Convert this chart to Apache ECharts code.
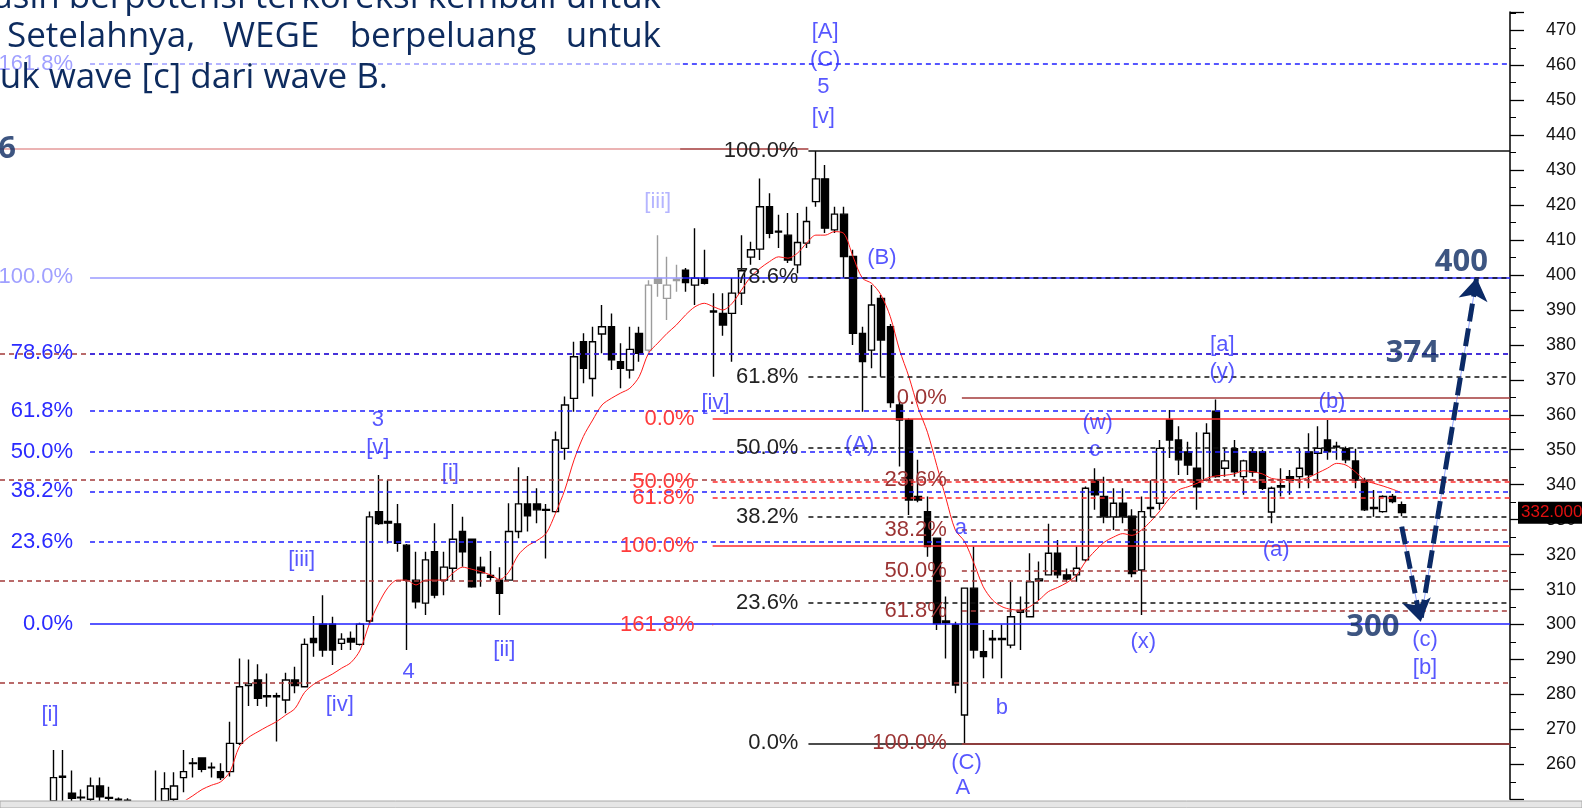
<!DOCTYPE html>
<html><head><meta charset="utf-8">
<script src="https://cdn.jsdelivr.net/npm/echarts@6/dist/echarts.min.js"></script>
<style>html,body{margin:0;padding:0;background:#fff;overflow:hidden}#c{width:1582px;height:808px}</style>
</head><body><div id="c"></div>
<script>
// ---------------- DATA ----------------
const opens  = [249.5,256.3,251.7,250.6,250,253.8,250.5,250,249.7,248,247.5,247,249.5,250,256.2,260.2,261.8,259.2,257.9,257.9,
266,282.5,284.1,279.3,279.6,278.4,284.1,282.2,296,300.1,300.1,294.6,296,294.3,301,332.3,329.5,328.8,322.7,312.7,
306.1,320.8,312.7,316.1,326.6,324.4,316.4,314,312.7,312.7,326.6,334.5,334.5,332.9,332.3,350.4,364.7,380.9,370.4,383.1,
385.2,375.2,372.8,383.3,378.5,399,393.3,398.8,401.4,397.1,399,389.7,389,389,394.8,405.1,407.4,419.5,412.5,411.4,
402.9,409.1,421,427.5,412.9,417.4,405.3,383.3,378.5,393.3,385.2,362.8,358.5,336.6,332.3,324.7,301,299.9,274.1,310.4,
292.2,295.6,296,294.1,303.5,302.2,312.5,314.2,320.4,314.2,314.2,318.5,341.3,336.6,330.8,334.7,331,315.6,333.2,334.7,
358.5,352.8,349.4,344.7,341.3,361,344.7,350.3,342.3,349.4,349.4,332.2,339.3,342.3,342.3,349.4,349,352.8,350.8,350.3,
346.8,341.3,333.5,332.3,336.6,334.3];
const closes = [256.2,256.6,250.3,250.4,253.8,250.7,250.3,249.8,249.5,247.5,247,248,253,253.8,257.9,260.4,258.6,259,256.2,266,
282.2,283,278.9,279.6,279.3,284.1,282.5,294.3,294.8,292.7,292.7,295.8,295,300.1,330.8,328.9,329,323.2,312.7,306.5,
318.5,308.4,316.4,324.4,320.8,310.8,314.8,313.5,308.9,326.6,334.5,331.1,332.8,332.7,352.8,362.8,376.6,373.3,380.9,385.2,
375.7,373.3,378.7,377.6,397.1,397.6,397.1,398.4,397.8,399.1,397.6,389.4,385.7,394.8,401.2,407.2,419.5,411.9,412.3,404.3,
409.3,415.3,427.5,413.4,417.4,405.3,383.3,375.2,391.4,381.4,363.5,358.5,335.6,335.6,322.3,300.3,300.5,282.7,310.4,292.7,
290.8,296,295.7,302.2,304,312.2,313,320.4,314.2,313,316.1,339,337.1,330.8,334.7,330.8,314.6,332.3,333.5,350.4,
352.8,347.1,345.6,339.4,354.7,342.3,346.8,343.7,346.8,343.6,339,339,339.7,341.3,344.7,342.8,350.4,349.4,351,347.1,
341.3,332.8,333.2,336.6,335.2,332];
const lows   = [248,249,249,249,249.5,249.5,249.5,249.5,249,246,246,246,248,248.5,252,256.2,257.7,256.2,255.5,256.5,
265.5,276.7,276.7,276.5,266.5,274.6,280.3,282,290.8,290.8,288.4,292.7,292.7,294,300,328.5,323.2,320.8,292.7,304.6,
302.7,307.5,308.4,312.7,316.5,310.5,310.8,312.5,302.7,312.5,324.7,326.6,329,318.9,332,347.1,360.9,369,365.2,377.6,
372.8,367.6,370.4,375.2,378,393.8,387.1,395.2,395.2,391.4,397.3,370.9,382.6,375.2,391.4,402.9,404.3,410.5,407.7,403.4,
400.5,407.7,419.5,412,412,399.1,380,360.9,373.3,370.9,362,345.2,331.3,335,319.4,298.4,290.3,280.3,266,290.3,
284.6,290.3,284.6,293.2,292.7,302,307,314,313.2,312.2,312.2,318,332.8,329,327,329,313.5,302.7,330.8,332.8,
347.6,342.8,342.8,332.8,341,342,342.3,342.3,337.1,342.3,338.5,329,336.6,337.1,339,339,341.3,347.1,347.1,346.1,
339,332.5,330.8,332,334.7,331];
const highs  = [264.1,264.1,258.2,252.8,256.2,256.2,253.6,250.5,250.3,249,248.5,258.2,257.7,257.7,264.1,261.8,262,260.5,260.3,272.2,
290.3,290,288.6,286,280.5,286.2,287.9,296,302.4,308.4,302.2,297.5,298,300.5,332.3,342.8,341.3,334.5,323,320.8,
320.8,329,320.8,334.5,330.8,324.6,319.4,321,316.4,334.7,345,342.5,339,334.5,355.2,365.2,380.9,383.3,385.2,391.4,
389,380.5,385.2,385.2,398.5,411.4,405.2,402.9,402,413.4,407.2,394.8,394.8,399.1,411.4,409.5,427.6,423.4,417.2,417.7,
417.7,419.5,435.5,431.5,419.5,419.5,407.2,385.2,397.1,394.3,386,364,359,347.1,336.6,324.7,308,300.8,310.6,322.3,
298.4,298.4,299.9,312.2,308,320.4,318,328.8,324.2,316,322.3,339.5,344.7,342.3,339,339,333,336.6,341.3,352.8,
361.4,356.7,352.3,355,357.6,364.4,350.4,352.8,347.1,350.3,350,339.5,344.7,344.2,350.4,354.7,356.7,358.5,352.3,350.9,
350.3,342,338.5,337,337.3,335.2];
// moving average (null where it is off the picture)
const movingAvg = [null,null,null,null,null,null,null,null,null,null,null,null,null,247.5,249.3,251,252.8,254,255,257.9,
265,267.7,269.3,270.8,272.2,274.1,276,280.5,282.9,284.4,285.8,287.5,289.1,292.7,300.3,306.1,310.6,312.7,312.7,311.3,
312.7,312.7,312.7,314.8,316.4,315.8,315.1,314.2,312.9,315.1,319.9,322.5,324,326.1,331.8,338.5,347.1,353.8,358.5,362.8,
364.7,366.2,367.6,370.9,377.6,380.5,383.3,385.7,388.6,390.9,391.9,390.9,390,391.9,395.7,399.5,401.9,403.8,405.2,404.8,
406.2,409.1,411.4,411.4,412.4,411.9,405.2,399.1,397.6,394.3,388.1,378.5,370.9,362,355,345.5,336,327,323.7,317.5,
310.8,307,305.1,304.3,304.1,305.1,307,309.4,310.6,312,314,318,321,323.5,325,326,325.5,327,329.5,332.5,
336,338.5,339.4,340.4,341.8,342.5,342.7,343.1,344,343.7,343.1,341.8,341.5,341.5,341.5,342.1,343.4,344.7,346.1,345.6,
343.7,341.3,340.4,339.6,338.7,337.7];
const dimmedCandles = [64,65,66,67];

// Fibonacci level sets
const blueFibNames   = ['161.8%','100.0%','78.6%','61.8%','50.0%','38.2%','23.6%','0.0%'];
const blueFibValues  = [460.5,399.3,377.6,361.1,349.5,338.1,323.6,300.1];
const blackFibNames  = ['100.0%','78.6%','61.8%','50.0%','38.2%','23.6%','0.0%'];
const blackFibValues = [435.6,399.3,370.8,350.6,330.8,306.1,266.0];
const redFibNames    = ['0.0%','50.0%','61.8%','100.0%','161.8%'];
const redFibValues   = [358.8,340.9,336.3,322.6,300.0];
const brownFibNames  = ['0.0%','23.6%','38.2%','50.0%','61.8%','100.0%'];
const brownFibValues = [364.9,341.3,327.0,315.3,303.8,266.0];
const leftBrownLevels = [377.6,341.4,312.5,283.2];
const topLevel = 436;

// wave labels: [x index, price, text]
const waveLabels = [
  [83.0,469.6,'[A]'],[83.0,461.5,'(C)'],[82.8,453.9,'5'],[82.8,445.3,'[v]'],
  [89.1,404.8,'(B)'],[71.2,363.3,'[iv]'],[86.7,351.4,'(A)'],[97.6,327.5,'a'],
  [102.0,276.0,'b'],[98.2,260.3,'(C)'],[97.8,253.1,'A'],[125.7,380.0,'[a]'],
  [125.7,372.3,'(y)'],[137.5,363.7,'(b)'],[112.3,357.6,'(w)'],[112.0,349.9,'c'],
  [131.5,321.3,'(a)'],[117.2,295.1,'(x)'],[147.5,295.6,'(c)'],[147.5,287.5,'[b]'],
  [34.9,358.5,'3'],[34.9,350.4,'[v]'],[42.7,343.3,'[i]'],[26.7,318.5,'[iii]'],
  [38.2,286.5,'4'],[48.5,292.7,'[ii]'],[-0.35,274.1,'[i]'],[30.8,277.0,'[iv]']
];
const waveLabelsLight = [[65.0,421.0,'[iii]']];
const targetLabels = [[141.9,299.1,'300'],[146.15,377.6,'374'],[151.4,403.6,'400'],[-6.86,436,'436']];
// projected path: [from index, from price, to index, to price]
const arrowDown = [145.0,328.0,147.04,300.8];
const arrowUp   = [147.1,302.0,153.05,399.1];

// ---------------- CHART ----------------
const X_MIN = -5.731, X_MAX = 156.64;
const NARROW = '"Liberation Sans Narrow", "Arial Narrow", sans-serif';
const PARA_FONT = '35px "Open Sans", "Noto Sans", sans-serif';
const PARA_COLOR = '#0d2b5e';

const candleData = opens.map((o,i)=>{
  const row = {value:[i,o,closes[i],lows[i],highs[i]]};
  if (dimmedCandles.includes(i)) row.itemStyle = {borderColor:'#9c9c9c',borderColor0:'#9c9c9c',color0:'#9c9c9c'};
  return row;
});
const maData = [];
movingAvg.forEach((v,i)=>{ if(v!=null) maData.push([i,v]); });

function seg(name, v, x0, x1, color, dash, lblColor, dist, width){
  return [{name:name, coord:[x0,v],
           lineStyle:{color:color,type:dash?[5,4]:'solid',width:width||1.6},
           label:{show:!!name, position:'start', distance:dist||10, formatter:'{b}', color:lblColor||color,
                  fontFamily:NARROW, fontSize:22}},
          {coord:[x1,v]}];
}
const fibLines = [];
leftBrownLevels.forEach(v=>fibLines.push(seg('',v,X_MIN,X_MAX,'#a33a3a',true)));
fibLines.push(seg('',topLevel,X_MIN,67.4,'#e59a9a',false));
fibLines.push(seg('',topLevel,67.4,81.2,'#a33a3a',false));
blueFibNames.forEach((n,k)=>{
  const v = blueFibValues[k];
  const solid = (n==='100.0%'||n==='0.0%');
  if (n==='161.8%'||n==='100.0%'){
    fibLines.push(seg(n,v,3.95,67.7,'#9a9aff',!solid,'#a0a0ff',17));
    fibLines.push(seg('',v,67.7,X_MAX,'#1f1fff',!solid));
  } else {
    fibLines.push(seg(n,v,3.95,X_MAX,'#1f1fff',!solid,'#2a2aff',17));
  }
});
blackFibNames.forEach((n,k)=>{
  const v = blackFibValues[k];
  const solid = (n==='100.0%'||n==='0.0%');
  fibLines.push(seg(n,v,81.2,X_MAX,'#111',!solid,'#222',10));
});
redFibNames.forEach((n,k)=>{
  const v = redFibValues[k];
  const solid = (n==='0.0%'||n==='100.0%');
  fibLines.push(seg(n,v,70.9,n==='161.8%'?70.95:X_MAX,'#ff2a2a',!solid,'#ff3b3b',18));
});
brownFibNames.forEach((n,k)=>{
  const v = brownFibValues[k];
  const solid = (n==='0.0%'||n==='100.0%');
  fibLines.push(seg(n,v,97.7,X_MAX,'#a33a3a',!solid,'#9b3434',15));
});

const textSeries = (data, color, font, size, weight, z) => ({
  type:'scatter', data:data, symbolSize:1, clip:false, silent:true, z:z||6,
  itemStyle:{color:'rgba(0,0,0,0)'},
  label:{show:true, position:'inside', formatter:p=>p.data[2], color:color,
         fontFamily:font, fontSize:size, fontWeight:weight||'normal'}
});
const lastClose = closes[closes.length-1];

const chart = echarts.init(document.getElementById('c'));
chart.setOption({
  animation:false,
  backgroundColor:'#fff',
  grid:{left:0, right:72, top:12, bottom:8.75},
  xAxis:{type:'value', min:X_MIN, max:X_MAX, show:false},
  yAxis:{type:'value', position:'right', min:250, max:475.24, interval:10, scale:true,
    axisLine:{show:true, onZero:false, lineStyle:{color:'#000', width:1.5}},
    axisTick:{show:true, length:14, lineStyle:{color:'#000', width:1.3}},
    minorTick:{show:true, splitNumber:2, length:6, lineStyle:{color:'#000', width:1}},
    splitLine:{show:false},
    axisLabel:{margin:36, color:'#111', fontFamily:'Arial, "Liberation Sans", sans-serif', fontSize:18,
      formatter:v => (Math.abs(v%10)<1e-6 && v>=260 && v<=470) ? String(v) : ''}
  },
  series:[
    {type:'line', data:[], silent:true, z:1,
     markLine:{silent:true, symbol:['none','none'], animation:false, data:fibLines}},
    {type:'candlestick', data:candleData, barWidth:7, z:3,
     itemStyle:{color:'#fff', color0:'#000', borderColor:'#000', borderColor0:'#000', borderWidth:1.4}},
    {type:'line', data:[], silent:true, z:12,
     markLine:{silent:true, symbol:['none','none'], animation:false,
       data:[{yAxis:lastClose, lineStyle:{color:'rgba(0,0,0,0)', width:1},
              label:{show:true, position:'end', distance:8, formatter:()=>lastClose.toFixed(3),
                     backgroundColor:'#000', color:'#e01010', fontFamily:'Arial, "Liberation Sans", sans-serif', fontSize:17,
                     padding:[3,4,2,3]}}]}},
    {type:'line', data:maData, showSymbol:false, smooth:0.3, z:4, silent:true,
     lineStyle:{color:'#ff1a1a', width:1}},
    {type:'lines', coordinateSystem:'cartesian2d', z:7, silent:true,
     symbol:['none','none'],
     lineStyle:{color:'#3050ff', width:1},
     data:[{coords:[[arrowDown[0],arrowDown[1]],[arrowDown[2],arrowDown[3]]]},
           {coords:[[arrowUp[0],arrowUp[1]],[arrowUp[2],arrowUp[3]]]}]},
    {type:'lines', coordinateSystem:'cartesian2d', z:8, silent:true,
     symbol:['none','arrow'], symbolSize:[16,22],
     lineStyle:{color:'#0b2a66', width:5, type:[18,7], opacity:1},
     data:[{coords:[[arrowDown[0],arrowDown[1]],[arrowDown[2],arrowDown[3]]]},
           {coords:[[arrowUp[0],arrowUp[1]],[arrowUp[2],arrowUp[3]]]}]},
    textSeries(waveLabels,'#2d2dff',NARROW,22),
    textSeries(waveLabelsLight,'#a3a3ff',NARROW,22),
    textSeries(targetLabels,'#0c2a62','"Open Sans", "Noto Sans", sans-serif',31,'bold',9)
  ],
  graphic:[
    {type:'text', z:20, style:{text:'masih berpotensi terkoreksi kembali untuk', x:661, y:-2, textAlign:'right', textVerticalAlign:'middle',
      font:PARA_FONT, fill:PARA_COLOR}},
    {type:'text', z:20, style:{text:'Setelahnya,', x:7, y:37, textAlign:'left', textVerticalAlign:'middle',
      font:PARA_FONT, fill:PARA_COLOR}},
    {type:'text', z:20, style:{text:'WEGE', x:271, y:37, textAlign:'center', textVerticalAlign:'middle',
      font:PARA_FONT, fill:PARA_COLOR}},
    {type:'text', z:20, style:{text:'berpeluang', x:443, y:37, textAlign:'center', textVerticalAlign:'middle',
      font:PARA_FONT, fill:PARA_COLOR}},
    {type:'text', z:20, style:{text:'untuk', x:661, y:37, textAlign:'right', textVerticalAlign:'middle',
      font:PARA_FONT, fill:PARA_COLOR}},
    {type:'text', z:20, style:{text:'untuk wave [c] dari wave B.', x:388, y:78, textAlign:'right', textVerticalAlign:'middle',
      font:PARA_FONT, fill:PARA_COLOR}},
    {type:'rect', z:30, shape:{x:0, y:801, width:1582, height:7}, style:{fill:'#e6e6e6', stroke:'#a8a8a8', lineWidth:1}}
  ]
});
</script></body></html>
